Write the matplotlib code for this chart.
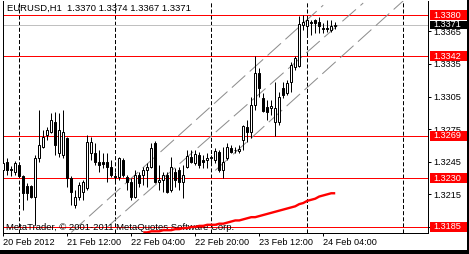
import numpy as np
import matplotlib
matplotlib.use("Agg")
import matplotlib.pyplot as plt
from matplotlib.patches import Rectangle

# ==== data (EURUSD H1) ====
opens = [1.3237, 1.3245, 1.3238, 1.3236, 1.3242, 1.3232, 1.3223, 1.3223, 1.3213, 1.3248,
         1.3259, 1.3270, 1.3272, 1.3282, 1.3253, 1.3251, 1.3267, 1.3230, 1.3205, 1.3213,
         1.3217, 1.3221, 1.3253, 1.3253, 1.3245, 1.3245, 1.3245, 1.3240, 1.3232, 1.3231,
         1.3247, 1.3231, 1.3226, 1.3213, 1.3233, 1.3233, 1.3237, 1.3240, 1.3262, 1.3226,
         1.3228, 1.3233, 1.3219, 1.3236, 1.3237, 1.3226, 1.3240, 1.3249, 1.3244, 1.3251,
         1.3247, 1.3247, 1.3248, 1.3247, 1.3254, 1.3237, 1.3248, 1.3258, 1.3256, 1.3255,
         1.3265, 1.3277, 1.3272, 1.3297, 1.3327, 1.3304, 1.3295, 1.3294, 1.3282, 1.3282,
         1.3313, 1.3308, 1.3318, 1.3332, 1.3333, 1.3371, 1.3370, 1.3374, 1.3375, 1.3374,
         1.3368, 1.3368, 1.3366, 1.3370]
highs = [1.3247, 1.3248, 1.3241, 1.3246, 1.3244, 1.3233, 1.3225, 1.3224, 1.3251, 1.3293,
         1.3274, 1.3277, 1.3290, 1.3291, 1.3290, 1.3293, 1.3268, 1.3232, 1.3219, 1.3226,
         1.3228, 1.3270, 1.3268, 1.3262, 1.3256, 1.3253, 1.3253, 1.3247, 1.3236, 1.3249,
         1.3248, 1.3233, 1.3230, 1.3237, 1.3236, 1.3240, 1.3244, 1.3262, 1.3264, 1.3242,
         1.3236, 1.3236, 1.3249, 1.3239, 1.3240, 1.3242, 1.3256, 1.3256, 1.3256, 1.3254,
         1.3251, 1.3253, 1.3251, 1.3258, 1.3256, 1.3259, 1.3262, 1.3260, 1.3259, 1.3260,
         1.3279, 1.3283, 1.3305, 1.3342, 1.3331, 1.3308, 1.3302, 1.3302, 1.3318, 1.3309,
         1.3318, 1.3320, 1.3337, 1.3342, 1.3379, 1.3380, 1.3377, 1.3375, 1.3376, 1.3378,
         1.3373, 1.3375, 1.3375, 1.3374]
lows = [1.3235, 1.3233, 1.3232, 1.3233, 1.3231, 1.3201, 1.3210, 1.3212, 1.3187, 1.3245,
        1.3258, 1.3265, 1.3271, 1.3251, 1.3249, 1.3248, 1.3222, 1.3205, 1.3202, 1.3210,
        1.3210, 1.3219, 1.3247, 1.3242, 1.3236, 1.3239, 1.3226, 1.3231, 1.3226, 1.3228,
        1.3231, 1.3219, 1.3210, 1.3212, 1.3222, 1.3224, 1.3222, 1.3239, 1.3225, 1.3219,
        1.3217, 1.3216, 1.3217, 1.3222, 1.3219, 1.3212, 1.3239, 1.3244, 1.3242, 1.3239,
        1.3239, 1.3239, 1.3242, 1.3244, 1.3236, 1.3230, 1.3247, 1.3253, 1.3253, 1.3253,
        1.3256, 1.3263, 1.3267, 1.3293, 1.3305, 1.3291, 1.3283, 1.3288, 1.3269, 1.3279,
        1.3304, 1.3306, 1.3309, 1.3329, 1.3332, 1.3366, 1.3362, 1.3362, 1.3363, 1.3363,
        1.3363, 1.3364, 1.3364, 1.3367]
closes = [1.3244, 1.3237, 1.3237, 1.3244, 1.3232, 1.3216, 1.3216, 1.3213, 1.3248, 1.3260,
          1.3268, 1.3274, 1.3283, 1.3260, 1.3274, 1.3272, 1.3230, 1.3217, 1.3213, 1.3224,
          1.3226, 1.3263, 1.3263, 1.3245, 1.3242, 1.3243, 1.3240, 1.3233, 1.3231, 1.3248,
          1.3233, 1.3226, 1.3213, 1.3233, 1.3225, 1.3237, 1.3240, 1.3258, 1.3226, 1.3228,
          1.3233, 1.3217, 1.3240, 1.3228, 1.3226, 1.3233, 1.3250, 1.3245, 1.3252, 1.3242,
          1.3245, 1.3248, 1.3249, 1.3255, 1.3237, 1.3245, 1.3259, 1.3254, 1.3256, 1.3257,
          1.3278, 1.3272, 1.3297, 1.3327, 1.3313, 1.3292, 1.3291, 1.3296, 1.3294, 1.3305,
          1.3306, 1.3317, 1.3334, 1.3340, 1.3372, 1.3374, 1.3375, 1.3373, 1.3373, 1.3370,
          1.3367, 1.3367, 1.3370, 1.3371]

# red indicator curve, one value per bar starting at bar 35
curve_start = 35
curve_vals = [1.3180, 1.3180, 1.3181, 1.3181, 1.3181, 1.3182, 1.3182, 1.3182, 1.3183, 1.3183,
              1.3184, 1.3184, 1.3185, 1.3185, 1.3186, 1.3186, 1.3187, 1.3187, 1.3187, 1.3188,
              1.3188, 1.3189, 1.3190, 1.3191, 1.3191, 1.3192, 1.3193, 1.3194, 1.3194, 1.3195,
              1.3196, 1.3197, 1.3198, 1.3199, 1.3200, 1.3201, 1.3202, 1.3203, 1.3204, 1.3206,
              1.3207, 1.3209, 1.3210, 1.3211, 1.3213, 1.3214, 1.3215, 1.3216, 1.3216]

# channel lines: (bar, price) start and end
channel_bars = [(17, 80), (26, 90), (53, 100)]
channel_prices = [(1.3180, 1.3389), (1.3185, 1.3391), (1.3237, 1.3393)]

red_levels = [1.3380, 1.3342, 1.3269, 1.3230, 1.3185]
bid = 1.3371
y_ticks = [1.3365, 1.3335, 1.3305, 1.3275, 1.3245, 1.3215, 1.3185]
x_tick_bars = [0, 16, 32, 48, 64, 80]
x_tick_labels = ["20 Feb 2012", "21 Feb 12:00", "22 Feb 04:00",
                 "22 Feb 20:00", "23 Feb 12:00", "24 Feb 04:00"]
day_breaks = [4, 28, 52, 76, 100]
title_text = "EURUSD,H1  1.3370 1.3374 1.3367 1.3371"
copyright_text = "MetaTrader, \u00a9 2001-2011 MetaQuotes Software Corp."

# ==== figure ====
plt.rcParams["font.family"] = ["Liberation Sans", "DejaVu Sans"]
plt.rcParams["lines.scale_dashes"] = False
W, H = 469, 254
fig = plt.figure(figsize=(W / 100, H / 100), dpi=100)
px = 0.72  # one pixel in points

# plot area in pixels: x 2.7..428, y 1..233
ax = fig.add_axes([2.7 / W, (H - 233) / H, (428 - 2.7) / W, 232 / H])
ax.set_xlim(-0.15, 106.2)
ax.set_ylim(1.317944, 1.339288)

x = np.arange(len(opens))
o = np.array(opens)
c = np.array(closes)

# day separators
for b in day_breaks:
    ax.axvline(b, color="black", lw=px, dashes=(2.9, 1.5), zorder=1)

# horizontal levels
for lv in red_levels:
    ax.axhline(lv, color="#ff0000", lw=px, zorder=2)
ax.axhline(bid, color="#c0c0c0", lw=px, zorder=2)

# channel
for (b0, b1), (p0, p1) in zip(channel_bars, channel_prices):
    ax.plot([b0, b1], [p0, p1], color="#8c8c8c", lw=px, dashes=(13, 4.3), zorder=2)

# red curve
ax.plot(np.arange(curve_start, curve_start + len(curve_vals)), curve_vals,
        color="#ff0000", lw=1.7, zorder=3, solid_capstyle="butt")

# candles
ax.vlines(x, lows, highs, color="black", lw=px, zorder=4)
up = c >= o
ax.bar(x[up], (c - o)[up], bottom=o[up], width=0.5, color="white",
       edgecolor="black", lw=px, zorder=5)
ax.bar(x[~up], (o - c)[~up], bottom=c[~up], width=0.5, color="black",
       edgecolor="black", lw=px, zorder=5)

# axes look
for s in ["top"]:
    ax.spines[s].set_visible(False)
for s in ["left", "bottom", "right"]:
    ax.spines[s].set_linewidth(px)
ax.yaxis.tick_right()
ax.set_yticks(y_ticks)
ax.set_yticklabels([f"{v:.4f}" for v in y_ticks])
ax.set_xticks(x_tick_bars)
ax.set_xticklabels(x_tick_labels)
ax.tick_params(axis="both", direction="out", length=2.5, width=px,
               labelsize=6.6, colors="black")
ax.tick_params(axis="y", pad=1.5)
ax.tick_params(axis="x", pad=1.2)
for lbl in ax.get_xticklabels():
    lbl.set_horizontalalignment("left")
    lbl.set_x(0)

# price labels on the right
yt = ax.get_yaxis_transform()
box_h = 10 / 232 * (1.339288 - 1.317944)
for lv in red_levels:
    ax.add_patch(Rectangle((1.0047, lv - box_h / 2), 0.095, box_h, transform=yt,
                           facecolor="#ff0000", edgecolor="none", clip_on=False, zorder=6))
    ax.text(1.0118, lv, f"{lv:.4f}", transform=yt, color="white", fontsize=6.6,
            va="center", ha="left", clip_on=False, zorder=7)
ax.add_patch(Rectangle((1.0047, bid - box_h * 0.42), 0.095, box_h * 0.84, transform=yt,
                       facecolor="black", edgecolor="none", clip_on=False, zorder=6))
ax.text(1.0118, bid, f"{bid:.4f}", transform=yt, color="white", fontsize=6.6,
        va="center", ha="left", clip_on=False, zorder=7)

# texts
ax.text(0.01, 0.99, title_text, transform=ax.transAxes, fontsize=6.8,
        va="top", ha="left", zorder=8)
ax.text(0.008, 0.005, copyright_text, transform=ax.transAxes, fontsize=6.8,
        va="bottom", ha="left", zorder=2)

# black frame on right and bottom of the screenshot
fig.patches.append(Rectangle((467 / W, 0), 2 / W, 1, transform=fig.transFigure,
                             facecolor="black", edgecolor="none", zorder=10))
fig.patches.append(Rectangle((0, 0), 1, 4 / H, transform=fig.transFigure,
                             facecolor="black", edgecolor="none", zorder=10))

fig.savefig("out.png", dpi=100)
